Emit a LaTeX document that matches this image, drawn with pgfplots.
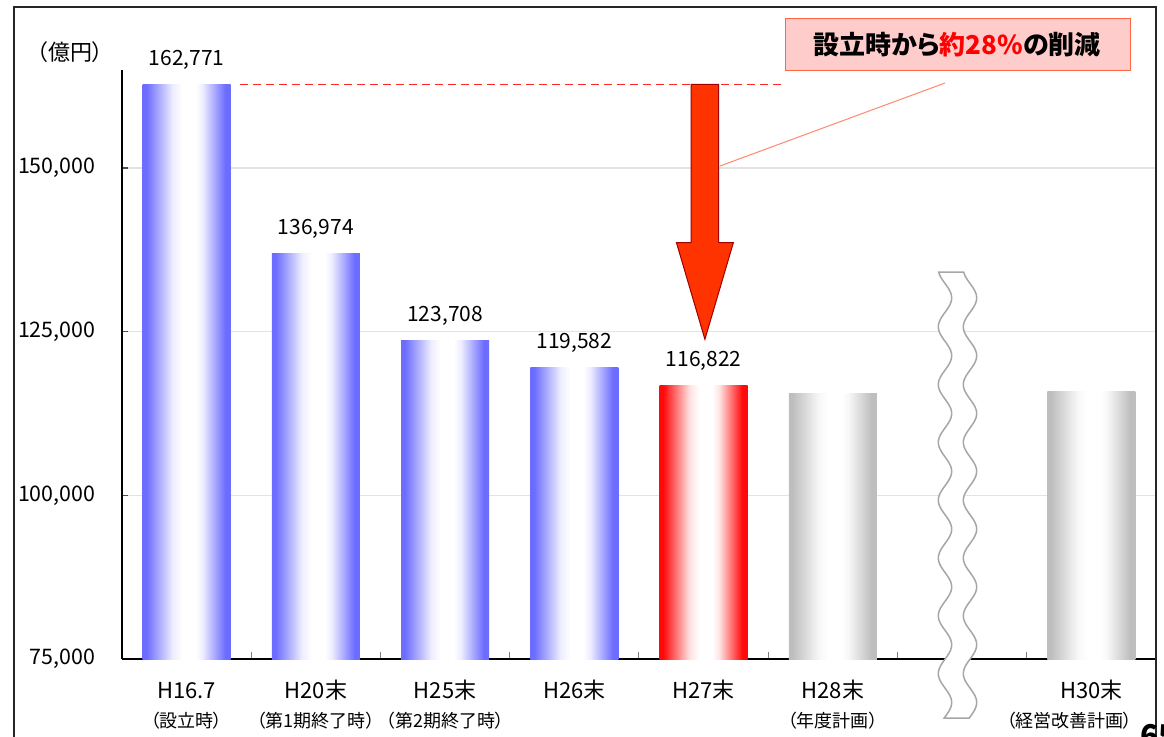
\documentclass[border=0pt]{standalone}
\usepackage{fontspec}
\setmainfont{Noto Sans CJK JP}[RawFeature=+palt]
\usepackage{pgfplots}
\pgfplotsset{compat=1.18}

\definecolor{blueE}{RGB}{108,108,255}
\definecolor{redE}{RGB}{255,10,10}
\definecolor{grayE}{RGB}{190,190,190}
\definecolor{arrowfill}{RGB}{255,51,0}
\definecolor{arrowdraw}{RGB}{160,0,0}
\definecolor{boxfill}{RGB}{255,204,204}
\definecolor{boxdraw}{RGB}{255,102,68}
\definecolor{pointer}{RGB}{255,136,110}
\definecolor{dashred}{RGB}{255,40,40}
\definecolor{wavegray}{RGB}{166,166,166}

\pgfdeclarehorizontalshading{blueshade}{100bp}{color(0bp)=(blueE); color(27bp)=(blueE); color(42bp)=(blueE!12); color(47.5bp)=(white); color(55bp)=(white); color(59bp)=(blueE!12); color(72bp)=(blueE); color(100bp)=(blueE)}
\pgfdeclarehorizontalshading{redshade}{100bp}{color(0bp)=(redE); color(27bp)=(redE); color(42bp)=(redE!12); color(47.5bp)=(white); color(55bp)=(white); color(59bp)=(redE!12); color(72bp)=(redE); color(100bp)=(redE)}
\pgfdeclarehorizontalshading{grayshade}{100bp}{color(0bp)=(grayE); color(27bp)=(grayE); color(42bp)=(grayE!12); color(47.5bp)=(white); color(55bp)=(white); color(59bp)=(grayE!12); color(72bp)=(grayE); color(100bp)=(grayE)}

\begin{document}
\begin{tikzpicture}
\useasboundingbox (0,0) rectangle (582pt,368pt);
\begin{axis}[
  at={(61pt,38.5pt)}, anchor=south west,
  scale only axis, width=517pt, height=294.65pt,
  xmin=-0.5, xmax=7.5, ymin=75000, ymax=165000,
  axis x line*=bottom, axis y line*=left,
  axis line style={black, line width=0.75pt, -},
  clip=false,
  ytick={75000,100000,125000,150000},
  ymajorgrids, grid style={gray!22, line width=0.8pt},
  tick align=inside,
  major tick length=3pt,
  minor tick length=3.5pt,
  y tick style={gray!60!black, line width=0.8pt},
  xtick={0,...,7},
  major x tick style={draw=none},
  minor xtick={0.5,1.5,...,6.5},
  minor x tick style={gray, line width=0.5pt},
  scaled y ticks=false,
  yticklabel style={font=\fontsize{10.7}{13}\selectfont, xshift=-9.8pt},
  xticklabel style={font=\fontsize{11}{13}\selectfont, align=center, anchor=north, yshift=-7pt},
  xticklabels={
    {\vphantom{末}H16.7\\[1.5pt]\fontsize{9}{10}\selectfont （設立時）},
    {\vphantom{末}H20末\\[1.5pt]\fontsize{9}{10}\selectfont （第1期終了時）},
    {\vphantom{末}H25末\\[1.5pt]\fontsize{9}{10}\selectfont （第2期終了時）},
    {\vphantom{末}H26末},
    {\vphantom{末}H27末},
    {\vphantom{末}H28末\\[1.5pt]\fontsize{9}{10}\selectfont （年度計画）},
    {},
    {\vphantom{末}H30末\\[1.5pt]\fontsize{9}{10}\selectfont （経営改善計画）\hspace*{22pt}}},
  /pgf/number format/fixed,
  /pgf/number format/precision=0,
  /pgf/number format/1000 sep={,},
  /pgf/number format/assume math mode=true,
  every node near coord/.append style={font=\fontsize{10.5}{12}\selectfont, anchor=base, yshift=9.5pt, inner sep=0pt, black},
]
\addplot[ybar, bar width=44pt, draw=none, shading=blueshade, shading angle=0, nodes near coords] coordinates {(0,162771)};
\addplot[ybar, bar width=44pt, draw=none, shading=blueshade, shading angle=0, nodes near coords] coordinates {(1,136974)};
\addplot[ybar, bar width=44pt, draw=none, shading=blueshade, shading angle=0, nodes near coords] coordinates {(2,123708)};
\addplot[ybar, bar width=44pt, draw=none, shading=blueshade, shading angle=0, nodes near coords] coordinates {(3,119582)};
\addplot[ybar, bar width=44pt, draw=none, shading=redshade, shading angle=0, nodes near coords] coordinates {(4,116822)};
\addplot[ybar, bar width=44pt, draw=none, shading=grayshade, shading angle=0] coordinates {(5,115500)};
\addplot[ybar, bar width=44pt, draw=none, shading=grayshade, shading angle=0] coordinates {(7,115800)};
% reference dashed line at start value
\draw[dashred, line width=0.7pt, dash pattern=on 4pt off 2.5pt] (axis cs:0.41,162771) -- (axis cs:4.62,162771);
% reduction arrow
\draw[fill=arrowfill, draw=arrowdraw, line width=0.5pt]
  (axis cs:3.903,162771) -- (axis cs:4.117,162771) -- (axis cs:4.117,138577)
  -- (axis cs:4.23,138577) -- (axis cs:4.01,123824) -- (axis cs:3.79,138577)
  -- (axis cs:3.903,138577) -- cycle;
\end{axis}
\begin{scope}[x=0.5pt, y=-0.5pt, yshift=368pt]
  % slide frame
  \draw[black!85, line width=0.75pt] (14,760) -- (14,7) -- (1156,7) -- (1156,760);
  % pointer line
  \draw[pointer, line width=0.5pt] (720,166) -- (945,83);
  % callout
  \draw[fill=boxfill, draw=boxdraw, line width=0.5pt] (785,18) rectangle (1130,70);
  \node[font=\fontsize{13}{15}\selectfont\bfseries] at (957,45) {設立時から{\color{red}約28\%}の削減};
  % unit label
  \node[font=\fontsize{11}{13}\selectfont] at (70,52) {（億円）};
  % break mark
  \draw[fill=white, draw=wavegray, line width=0.75pt]
    plot[domain=272:718, samples=160, smooth] ({945-6.7*cos(6.2284*(\x-269))}, \x)
    -- plot[domain=718:272, samples=160, smooth] ({970-6.7*cos(6.2284*(\x-269))}, \x) -- cycle;
  % page number
  \node[font=\fontsize{15}{17}\selectfont\bfseries, anchor=north west, inner sep=0pt] at (1140,724) {65};
\end{scope}
\end{tikzpicture}
\end{document}
